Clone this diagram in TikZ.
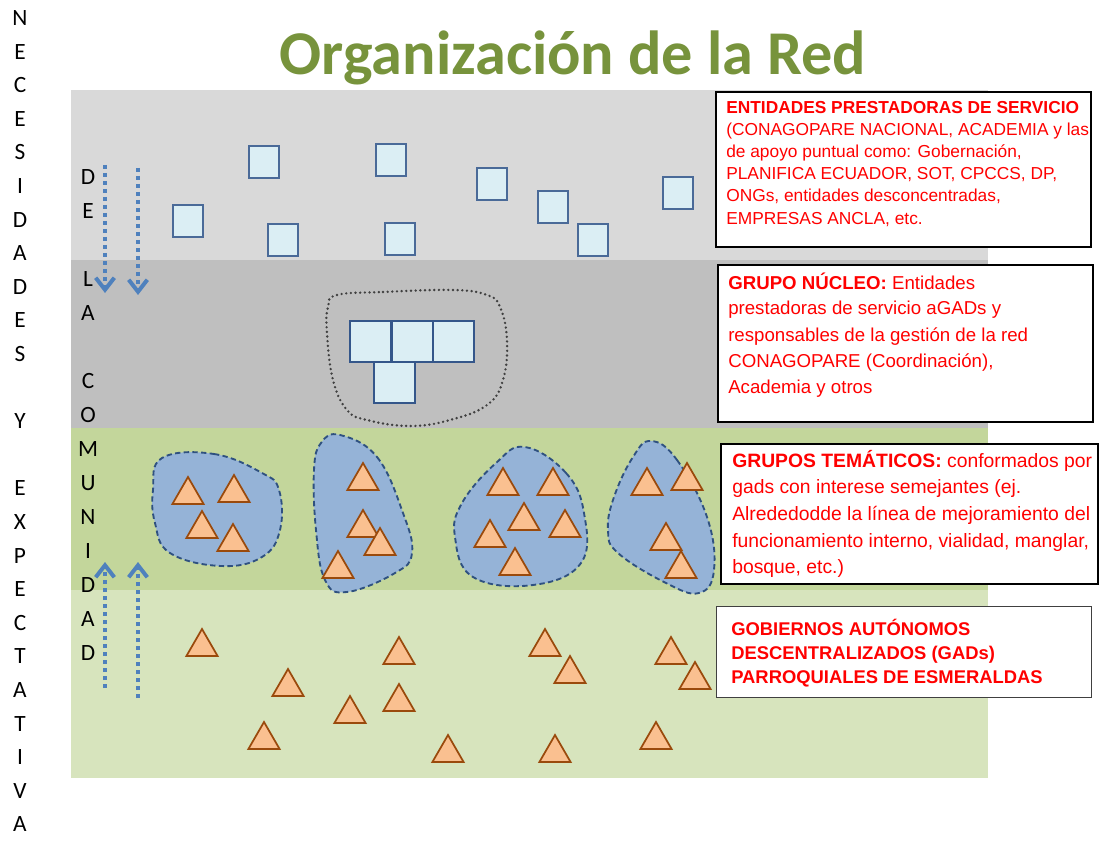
\documentclass[tikz,border=0pt]{standalone}
\usepackage{fontspec}
\setmainfont{Liberation Sans}
\newfontfamily\calib{Carlito}
\usetikzlibrary{arrows.meta,shapes.geometric}
\definecolor{bandA}{HTML}{D9D9D9}
\definecolor{bandB}{HTML}{BFBFBF}
\definecolor{bandC}{HTML}{C3D69B}
\definecolor{bandD}{HTML}{D7E4BD}
\definecolor{sqfill}{HTML}{DBEEF4}
\definecolor{sqborder}{HTML}{4A6A98}
\definecolor{coreborder}{HTML}{34568A}
\definecolor{trifill}{HTML}{FAC090}
\definecolor{tribrd}{HTML}{9A4A0C}
\definecolor{blobfill}{HTML}{95B3D7}
\definecolor{blobbrd}{HTML}{2F5180}
\definecolor{arrowblue}{HTML}{4F81BD}
\definecolor{titlegreen}{HTML}{77933C}
\definecolor{textred}{HTML}{FF0000}
\tikzset{
  sq/.style={draw=sqborder, fill=sqfill, line width=1.4pt, minimum width=22.5pt, minimum height=24pt, inner sep=0pt},
  coresq/.style={draw=coreborder, fill=sqfill, line width=1.5pt, minimum width=30.75pt, minimum height=30.75pt, inner sep=0pt},
  tri/.style={regular polygon, regular polygon sides=3, draw=tribrd, fill=trifill, line width=1.3pt, minimum size=27pt, inner sep=0pt},
  blob/.style={draw=blobbrd, fill=blobfill, line width=1.4pt, dash pattern=on 4pt off 2.5pt},
  coreblob/.style={draw=black!75, line width=2pt, dash pattern=on 0pt off 3.5pt, line cap=round},
  infobox/.style={draw=black, fill=white, line width=1.5pt, anchor=north west, inner sep=0pt},
  lineA/.style={anchor=base west, inner sep=0pt, text=textred, font=\fontsize{13}{15}\selectfont},
  lineB/.style={anchor=base west, inner sep=0pt, text=textred, font=\fontsize{14}{16}\selectfont},
  lineC/.style={anchor=base west, inner sep=0pt, text=textred, font=\fontsize{14.5}{16}\selectfont},
  lineD/.style={anchor=base west, inner sep=0pt, text=textred, font=\bfseries\fontsize{13.8}{16}\selectfont},
  vletter/.style={inner sep=0pt, font=\calib\fontsize{17.5}{19}\selectfont},
  dotarrow/.style={draw=arrowblue, line width=3pt, dash pattern=on 3pt off 3pt, -{Straight Barb[length=9pt,width=14pt]}},
}
\begin{document}
\begin{tikzpicture}[x=0.75pt,y=-0.75pt]
\useasboundingbox (0,0) rectangle (1118,845);
% bands
\fill[bandA] (71,90) rectangle (988,260);
\fill[bandB] (71,260) rectangle (988,428);
\fill[bandC] (71,428) rectangle (988,590);
\fill[bandD] (71,590) rectangle (988,778);

% title
\node[anchor=base, inner sep=0pt, text=titlegreen, font=\calib\bfseries\fontsize{46.7}{50}\selectfont] (title) at (573,75) {Organización de la Red};

% outer vertical text
\foreach \r/\l in {0/N,1/E,2/C,3/E,4/S,5/I,6/D,7/A,8/D,9/E,10/S,12/Y,14/E,15/X,16/P,17/E,18/C,19/T,20/A,21/T,22/I,23/V,24/A}
  \node[vletter] (out\r) at (20,{18+33.6*\r}) {\l};
% inner vertical text
\foreach \r/\l in {0/D,1/E,3/L,4/A,6/C,7/O,8/M,9/U,10/N,11/I,12/D,13/A,14/D}
  \node[vletter] (inn\r) at (88,{177+34*\r}) {\l};

% top squares
\node[sq] (s1) at (188,221) {};
\node[sq] (s2) at (264,162) {};
\node[sq] (s3) at (283,240) {};
\node[sq] (s4) at (391,160) {};
\node[sq] (s5) at (400,239) {};
\node[sq] (s6) at (492,184) {};
\node[sq] (s7) at (553,207) {};
\node[sq] (s8) at (593,240) {};
\node[sq] (s9) at (678,193) {};

% core group
\draw[coreblob] plot[smooth cycle, tension=0.7] coordinates {(337,295) (383,292) (453,290) (487,295) (500,307) (507,340) (503,380) (487,405) (450,420) (410,426) (367,420) (347,410) (333,380) (327,333) (328,307)};
\node[coresq] (c1) at (370.5,341) {};
\node[coresq] (c2) at (412,341) {};
\node[coresq] (c3) at (453,341) {};
\node[coresq] (c4) at (394.5,382) {};

% thematic groups
\draw[blob] plot[smooth cycle, tension=0.7] coordinates {(162,458) (214,454) (262,473) (279,490) (280,530) (262,557) (221,566) (170,553) (155,523) (153,490)};
\draw[blob] plot[smooth cycle, tension=0.7] coordinates {(340,435) (377,457) (403,513) (412,553) (395,573) (347,592) (325,580) (316,530) (314,470) (321,443)};
\draw[blob] plot[smooth cycle, tension=0.7] coordinates {(525,447) (566,473) (584,513) (581,563) (533,585) (473,577) (455,537) (462,503) (496,463)};
\draw[blob] plot[smooth cycle, tension=0.7] coordinates {(651,441) (677,460) (707,517) (714,570) (699,593) (666,583) (618,553) (608,530) (614,497) (633,457)};

\foreach \x/\a [count=\i] in {188/477,234/475,202/511,233/524,
  363/463,363/510,380/528,338/551,
  503/468,553/468,524/503,565/510,490/520,515/548,
  647/468,687/463,666/523,681/551,
  202/629,288/669,264/722,350/696,399/637,399/684,448/735,545/629,570/656,555/735,671/637,695/662,656/722}
  \node[tri] (t\i) at (\x,{\a+18}) {};

% arrows
\coordinate (d1s) at (105,165); \coordinate (d1e) at (105,293);
\coordinate (d2s) at (138,168); \coordinate (d2e) at (138,295);
\coordinate (u1s) at (105,688); \coordinate (u1e) at (105,562);
\coordinate (u2s) at (138,698); \coordinate (u2e) at (138,562);
\draw[dotarrow] (d1s) -- (d1e);
\draw[dotarrow] (d2s) -- (d2e);
\draw[dotarrow] (u1s) -- (u1e);
\draw[dotarrow] (u2s) -- (u2e);

% info boxes
\node[infobox, minimum width=281.25pt, minimum height=116.25pt] (b1) at (715,91) {};
\node[lineA] (b1l1) at (726,114) {\bfseries ENTIDADES PRESTADORAS DE SERVICIO};
\node[lineA] (b1l2) at (726,136) {(CONAGOPARE NACIONAL, ACADEMIA y las};
\node[lineA] (b1l3) at (726,158) {de apoyo puntual como: Gobernación,};
\node[lineA] (b1l4) at (726,180) {PLANIFICA ECUADOR, SOT, CPCCS, DP,};
\node[lineA] (b1l5) at (726,202) {ONGs, entidades desconcentradas,};
\node[lineA] (b1l6) at (726,225) {EMPRESAS ANCLA, etc.};

\node[infobox, minimum width=281.25pt, minimum height=117.75pt] (b2) at (717,264) {};
\node[lineB] (b2l1) at (728,289) {\textbf{GRUPO NÚCLEO:} Entidades};
\node[lineB] (b2l2) at (728,315) {prestadoras de servicio aGADs y};
\node[lineB] (b2l3) at (728,341) {responsables de la gestión de la red};
\node[lineB] (b2l4) at (728,367) {CONAGOPARE (Coordinación),};
\node[lineB] (b2l5) at (728,393) {Academia y otros};

\node[infobox, minimum width=282.75pt, minimum height=105pt] (b3) at (720,443) {};
\node[lineC] (b3l1) at (732,467) {\textbf{GRUPOS TEMÁTICOS:} conformados por};
\node[lineC] (b3l2) at (732,493) {gads con interese semejantes (ej.};
\node[lineC] (b3l3) at (732,520) {Alrededodde la línea de mejoramiento del};
\node[lineC] (b3l4) at (732,547) {funcionamiento interno, vialidad, manglar,};
\node[lineC] (b3l5) at (732,573) {bosque, etc.)};

\node[infobox, draw=black!75, line width=1pt, minimum width=281.25pt, minimum height=68.25pt] (b4) at (716,606) {};
\node[lineD] (b4l1) at (731,635) {GOBIERNOS AUTÓNOMOS};
\node[lineD] (b4l2) at (731,659) {DESCENTRALIZADOS (GADs)};
\node[lineD] (b4l3) at (731,683) {PARROQUIALES DE ESMERALDAS};
\end{tikzpicture}
\end{document}
